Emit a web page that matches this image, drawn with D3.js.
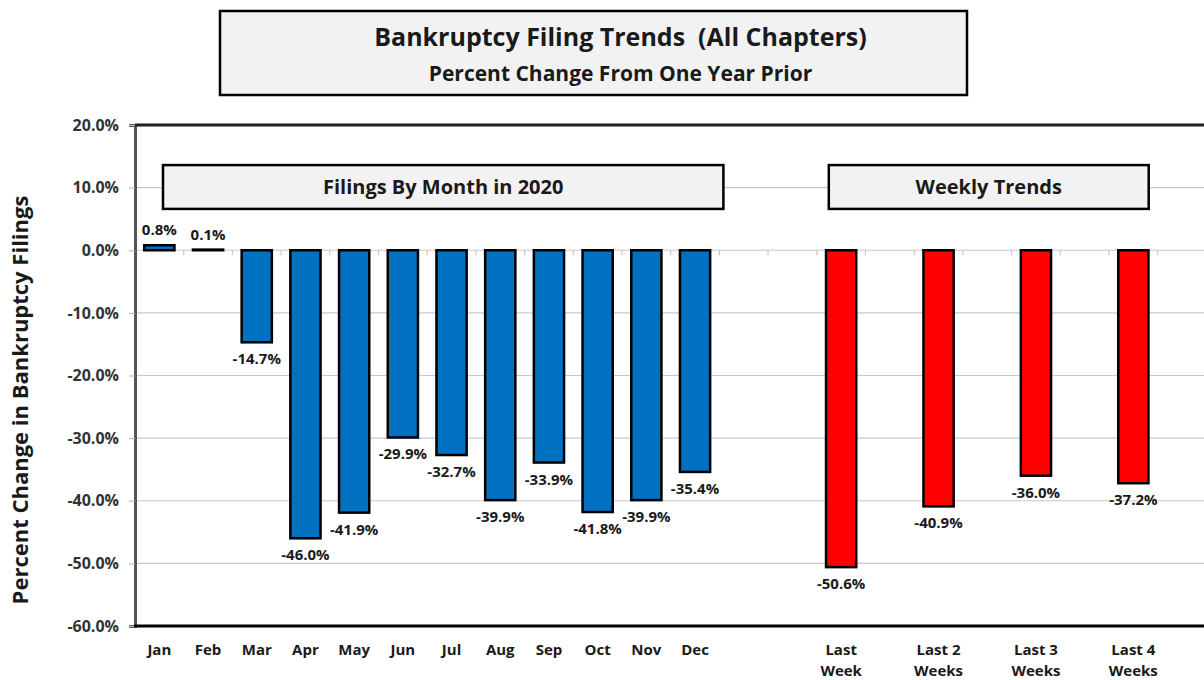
<!DOCTYPE html>
<html>
<head>
<meta charset="utf-8">
<script src="https://cdn.jsdelivr.net/npm/d3@7"></script>
<style>
  body { margin: 0; background: #fff; }
  text { font-family: "Open Sans", "Liberation Sans", sans-serif; font-weight: bold; fill: #1a1a1a; white-space: pre; }
</style>
</head>
<body>
<svg id="chart"></svg>
<script>
// data
const months = ["Jan", "Feb", "Mar", "Apr", "May", "Jun", "Jul", "Aug", "Sep", "Oct", "Nov", "Dec"];
const monthValues = [0.008, 0.001, -0.147, -0.460, -0.419, -0.299, -0.327, -0.399, -0.339, -0.418, -0.399, -0.354];
const weekLabels = ["Last\nWeek", "Last 2\nWeeks", "Last 3\nWeeks", "Last 4\nWeeks"];
const weekValues = [-0.506, -0.409, -0.360, -0.372];
const yTicks = [0.2, 0.1, 0, -0.1, -0.2, -0.3, -0.4, -0.5, -0.6];

const W = 1204, H = 680;
const margin = { top: 125, left: 135, bottom: 54 };

const svg = d3.select("#chart").attr("width", W).attr("height", H);

// slots: 12 months, 2 blanks, then week / blank pairs
const slots = [...months, "_g1", "_g2"];
weekLabels.forEach((w, i) => { slots.push(w); slots.push("_w" + i); });

const x = d3.scaleBand()
    .domain(slots)
    .range([margin.left, margin.left + 48.7 * slots.length]);
const y = d3.scaleLinear()
    .domain([-0.6, 0.2])
    .range([H - margin.bottom, margin.top]);

const fmt = d3.formatLocale({ decimal: ".", thousands: ",", grouping: [3], currency: ["$", ""], minus: "-" }).format(".1%");

const bars = months.map((m, i) => ({ key: m, value: monthValues[i], color: "#0070c0" }))
    .concat(weekLabels.map((w, i) => ({ key: w, value: weekValues[i], color: "#ff0000" })));

// gridlines
svg.append("g")
    .selectAll("line")
    .data(yTicks.filter(t => t < 0.2 && t > -0.6))
    .enter().append("line")
    .attr("x1", margin.left).attr("x2", W)
    .attr("y1", d => y(d)).attr("y2", d => y(d))
    .style("stroke", "#c8c8c8").style("stroke-width", 1.2);

// category ticks on zero line
svg.append("g")
    .selectAll("line")
    .data(slots.slice(1))
    .enter().append("line")
    .attr("x1", d => x(d)).attr("x2", d => x(d))
    .attr("y1", y(0)).attr("y2", y(0) + 5)
    .style("stroke", "#c8c8c8").style("stroke-width", 1.2);

// y axis
const yAxis = svg.append("g")
    .attr("transform", `translate(${margin.left},0)`)
    .call(d3.axisLeft(y).tickValues(yTicks).tickFormat(fmt).tickSize(6).tickPadding(10));
yAxis.select(".domain").style("stroke", "#555").style("stroke-width", 3);
yAxis.selectAll(".tick line").style("stroke", "#bbb").style("stroke-width", 1.2);
yAxis.selectAll(".tick text")
    .style("font-size", "16px")
    .style("font-family", "'Open Sans', sans-serif")
    .style("font-weight", "bold")
    .style("fill", "#333");

// top and bottom frame
svg.append("line")
    .attr("x1", margin.left).attr("x2", W)
    .attr("y1", y(0.2)).attr("y2", y(0.2))
    .style("stroke", "#222").style("stroke-width", 3);
svg.append("line")
    .attr("x1", margin.left - 1).attr("x2", W)
    .attr("y1", y(-0.6)).attr("y2", y(-0.6))
    .style("stroke", "#000").style("stroke-width", 3);

// bars
const bw = x.bandwidth() * 0.62;
svg.append("g")
    .selectAll("rect")
    .data(bars)
    .enter().append("rect")
    .attr("x", d => x(d.key) + (x.bandwidth() - bw) / 2)
    .attr("width", bw)
    .attr("y", d => y(Math.max(0, d.value)))
    .attr("height", d => Math.abs(y(d.value) - y(0)))
    .style("fill", d => d.color)
    .style("stroke", "#000")
    .style("stroke-width", 2.5);

// value labels
svg.append("g")
    .selectAll("text")
    .data(bars)
    .enter().append("text")
    .attr("x", d => x(d.key) + x.bandwidth() / 2)
    .attr("y", d => d.value >= 0 ? y(d.value) - 10 : y(d.value) + 22)
    .attr("text-anchor", "middle")
    .style("font-size", "15px")
    .text(d => fmt(d.value));

// x labels
const xl = svg.append("g")
    .selectAll("text")
    .data(bars)
    .enter().append("text")
    .attr("x", d => x(d.key) + x.bandwidth() / 2)
    .attr("y", 655)
    .attr("text-anchor", "middle")
    .style("font-size", "15px");
xl.selectAll("tspan")
    .data(d => d.key.split("\n").map(s => ({ s, cx: x(d.key) + x.bandwidth() / 2 })))
    .enter().append("tspan")
    .attr("x", d => d.cx)
    .attr("dy", (d, i) => i ? 21 : 0)
    .text(d => d.s);

// y axis title
svg.append("text")
    .attr("transform", `translate(28,400) rotate(-90)`)
    .attr("text-anchor", "middle")
    .style("font-size", "22px")
    .text("Percent Change in Bankruptcy Filings");

// boxed headings
function box(x0, x1, y0, y1, lines, sizes, offs, dx = 0) {
    const g = svg.append("g");
    g.append("rect")
        .attr("x", x0).attr("y", y0)
        .attr("width", x1 - x0).attr("height", y1 - y0)
        .style("fill", "#f2f2f2").style("stroke", "#000").style("stroke-width", 2.5);
    lines.forEach((t, i) => {
        g.append("text")
            .attr("x", (x0 + x1) / 2 + dx)
            .attr("y", y0 + offs[i])
            .attr("text-anchor", "middle")
            .style("font-size", sizes[i] + "px")
            .text(t);
    });
}

box(220, 967, 11, 95,
    ["Bankruptcy Filing Trends  (All Chapters)", "Percent Change From One Year Prior"],
    [25, 21], [35, 70], 27);

box(x("Jan") + 28, x("Dec") + x.bandwidth() + 4, y(0.136), y(0.066),
    ["Filings By Month in 2020"], [20], [29]);

box(x(weekLabels[0]) + 12, x(weekLabels[3]) + x.bandwidth() - 9, y(0.136), y(0.066),
    ["Weekly Trends"], [20], [29]);
</script>
</body>
</html>
